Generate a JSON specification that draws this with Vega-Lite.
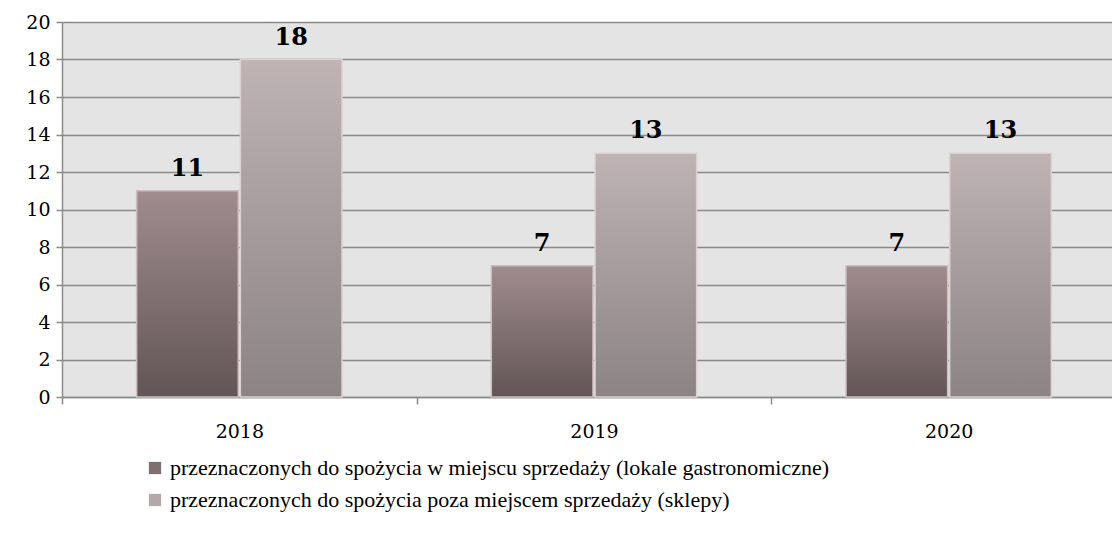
{
  "$schema": "https://vega.github.io/schema/vega-lite/v6.json",
  "width": 1064,
  "height": 375,
  "autosize": "none",
  "padding": {"left": 62, "top": 22, "right": 0, "bottom": 148},
  "background": "white",
  "config": {
    "view": {"fill": "#e4e4e4", "stroke": null},
    "font": "DejaVu Serif"
  },
  "data": {
    "values": [
      {"year": "2018", "series": "przeznaczonych do spożycia w miejscu sprzedaży (lokale gastronomiczne)", "value": 11},
      {"year": "2018", "series": "przeznaczonych do spożycia poza miejscem sprzedaży (sklepy)", "value": 18},
      {"year": "2019", "series": "przeznaczonych do spożycia w miejscu sprzedaży (lokale gastronomiczne)", "value": 7},
      {"year": "2019", "series": "przeznaczonych do spożycia poza miejscem sprzedaży (sklepy)", "value": 13},
      {"year": "2020", "series": "przeznaczonych do spożycia w miejscu sprzedaży (lokale gastronomiczne)", "value": 7},
      {"year": "2020", "series": "przeznaczonych do spożycia poza miejscem sprzedaży (sklepy)", "value": 13}
    ]
  },
  "encoding": {
    "x": {
      "field": "year", "type": "nominal", "title": null,
      "scale": {"paddingInner": 0, "paddingOuter": 0},
      "axis": {
        "labelAngle": 0, "labelFontSize": 19, "labelColor": "#000000", "labelFont": "DejaVu Serif",
        "labelPadding": 18, "tickBand": "extent", "tickSize": 7, "tickColor": "#8a8a8a", "tickWidth": 1.5,
        "domainColor": "#8a8a8a", "domainWidth": 1.5, "grid": false
      }
    },
    "xOffset": {
      "field": "series", "type": "nominal",
      "sort": ["przeznaczonych do spożycia w miejscu sprzedaży (lokale gastronomiczne)", "przeznaczonych do spożycia poza miejscem sprzedaży (sklepy)"],
      "scale": {"paddingInner": 0.02, "paddingOuter": 0.72}
    },
    "y": {
      "field": "value", "type": "quantitative", "title": null,
      "scale": {"domain": [0, 20]},
      "axis": {
        "values": [0, 2, 4, 6, 8, 10, 12, 14, 16, 18, 20],
        "labelFontSize": 19, "labelColor": "#000000", "labelFont": "DejaVu Serif", "labelPadding": 6,
        "tickSize": 6, "tickColor": "#8a8a8a", "tickWidth": 1.5,
        "domainColor": "#8a8a8a", "domainWidth": 1.5,
        "gridColor": "#8a8a8a", "gridWidth": 1.5
      }
    }
  },
  "layer": [
    {
      "mark": {"type": "bar"},
      "encoding": {
        "color": {
          "field": "series", "type": "nominal",
          "sort": ["przeznaczonych do spożycia w miejscu sprzedaży (lokale gastronomiczne)", "przeznaczonych do spożycia poza miejscem sprzedaży (sklepy)"],
          "scale": {"range": ["#806f71", "#b3a9aa"]},
          "legend": {
            "title": null, "orient": "none", "legendX": 82, "legendY": 435,
            "symbolType": "square", "symbolSize": 150, "symbolStrokeWidth": 0,
            "labelFontSize": 22, "labelFont": "Liberation Serif", "labelColor": "#000000",
            "labelLimit": 1000, "rowPadding": 10, "labelOffset": 4
          }
        }
      }
    },
    {
      "transform": [{"filter": "datum.series === 'przeznaczonych do spożycia w miejscu sprzedaży (lokale gastronomiczne)'"}],
      "mark": {"type": "bar", "stroke": "#cdbdbe", "strokeWidth": 1.5,
        "color": {"gradient": "linear", "x1": 0, "y1": 0, "x2": 0, "y2": 1, "stops": [{"offset": 0, "color": "#a08c8e"}, {"offset": 1, "color": "#625556"}]}}
    },
    {
      "transform": [{"filter": "datum.series === 'przeznaczonych do spożycia poza miejscem sprzedaży (sklepy)'"}],
      "mark": {"type": "bar", "stroke": "#ddd0d1", "strokeWidth": 1.5,
        "color": {"gradient": "linear", "x1": 0, "y1": 0, "x2": 0, "y2": 1, "stops": [{"offset": 0, "color": "#bfb3b4"}, {"offset": 1, "color": "#8b8384"}]}}
    },
    {
      "mark": {"type": "text", "dy": -22, "fontSize": 24, "fontWeight": "bold", "font": "DejaVu Serif", "color": "#000000"},
      "encoding": {"text": {"field": "value", "type": "quantitative"}}
    }
  ]
}
